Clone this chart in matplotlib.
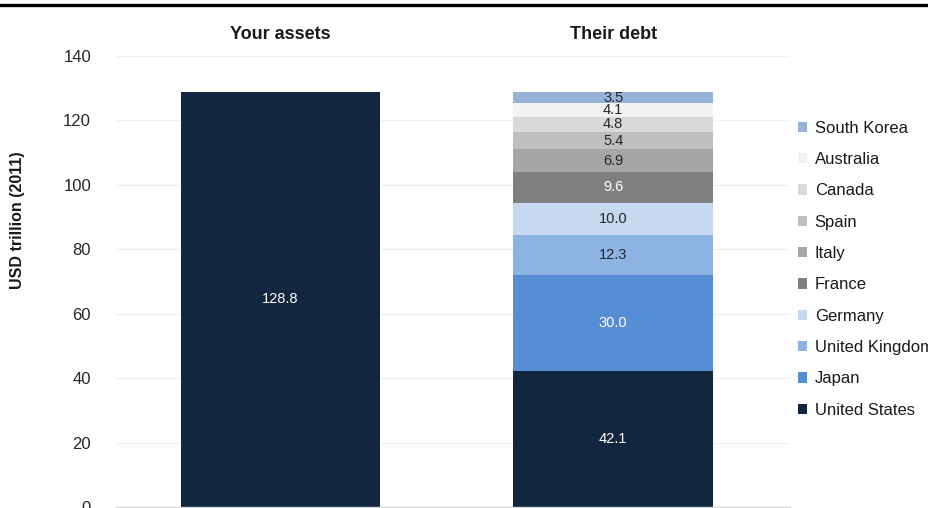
import matplotlib
matplotlib.use("Agg")
import matplotlib.pyplot as plt
from matplotlib.patches import Patch
from matplotlib.lines import Line2D

plt.rcParams['font.family'] = ['Liberation Sans', 'DejaVu Sans']

# Data (USD trillion, 2011)
groups = ["Your assets", "Their debt"]
assets_value = 128.8
countries = ["United States", "Japan", "United Kingdom", "Germany", "France",
             "Italy", "Spain", "Canada", "Australia", "South Korea"]
debt_values = [42.1, 30.0, 12.3, 10.0, 9.6, 6.9, 5.4, 4.8, 4.1, 3.5]
colors = ["#12263f", "#558ed5", "#8db3e2", "#c6d9f1", "#7f7f7f",
          "#a6a6a6", "#bfbfbf", "#d9d9d9", "#f2f2f2", "#95b3d7"]
label_colors = ["white", "white", "#262626", "#262626", "white",
                "#262626", "#262626", "#262626", "#262626", "#262626"]
y_ticks = [0, 20, 40, 60, 80, 100, 120, 140]

fig = plt.figure(figsize=(9.29, 5.08), dpi=100)
ax = fig.add_axes([0.1249, 0.002, 0.7255, 0.8884])

bar_w = 0.6
x = [0, 1]

# Left bar: total assets
ax.bar(x[0], assets_value, width=bar_w, color=colors[0], zorder=2)
ax.text(x[0], assets_value / 2, f"{assets_value:.1f}", ha="center", va="center",
        color="white", fontsize=10.5, zorder=3)

# Right bar: stacked debt by country
bottom = 0.0
for name, val, col, lc in zip(countries, debt_values, colors, label_colors):
    ax.bar(x[1], val, width=bar_w, bottom=bottom, color=col, zorder=2, label=name)
    ax.text(x[1], bottom + val / 2, f"{val:.1f}", ha="center", va="center",
            color=lc, fontsize=10.5, zorder=3)
    bottom += val

ax.set_xlim(-0.495, 1.532)
ax.set_ylim(0, 140)
ax.set_yticks(y_ticks)
ax.set_yticklabels([str(t) for t in y_ticks], fontsize=12, color="#262626")
ax.set_xticks([])
ax.tick_params(axis="y", length=0, pad=18)
ax.yaxis.grid(True, color="#f0f0f0", linewidth=1, zorder=0)
ax.set_axisbelow(True)
for side in ["top", "right", "left"]:
    ax.spines[side].set_visible(False)
ax.spines["bottom"].set_color("#d9d9d9")
ax.spines["bottom"].set_linewidth(1)

# Group titles above each bar
for xi, g in zip(x, groups):
    ax.text(xi, 1.048, g, transform=ax.get_xaxis_transform(), ha="center",
            va="center", fontsize=13, fontweight="bold", color="#1a1a1a")

# Y axis title
fig.text(0.019, 0.567, "USD trillion (2011)", rotation=90, ha="center", va="center",
         fontsize=11.5, fontweight="bold", color="#1a1a1a")

# Legend (top entry = top of stack)
handles = [Patch(facecolor=c, edgecolor="none") for c in colors][::-1]
labels = countries[::-1]
fig.legend(handles, labels, loc="center left", bbox_to_anchor=(0.859, 0.470),
           frameon=False, fontsize=12, handlelength=0.55, handleheight=0.55,
           handletextpad=0.45, labelspacing=0.98, borderpad=0, borderaxespad=0,
           labelcolor="#1a1a1a")

# Black rule along the top
fig.add_artist(Line2D([0, 1], [0.990, 0.990], transform=fig.transFigure,
                      color="black", linewidth=2.4))

fig.savefig("out.png", dpi=100)
